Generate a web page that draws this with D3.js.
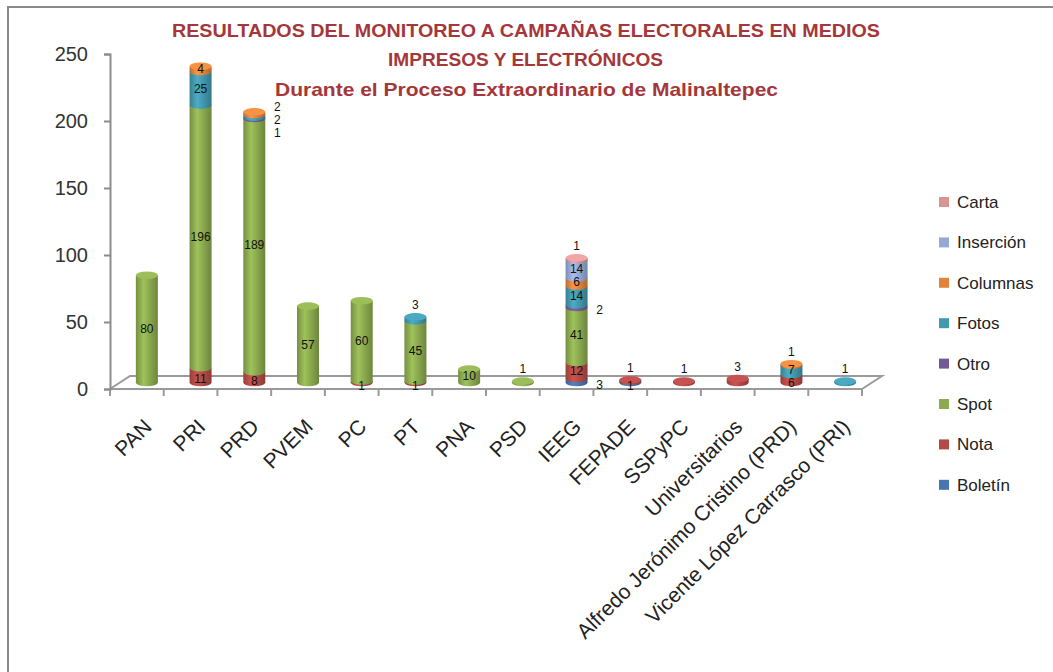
<!DOCTYPE html>
<html>
<head>
<meta charset="utf-8">
<script src="https://cdn.jsdelivr.net/npm/d3@7"></script>
<style>
  body { margin: 0; background: #fff; }
  svg { display: block; font-family: "Liberation Sans", Arial, sans-serif; }
</style>
</head>
<body>
<svg id="chart" width="1053" height="672"></svg>
<script>
// Datos
const categories = ["PAN", "PRI", "PRD", "PVEM", "PC", "PT", "PNA", "PSD", "IEEG", "FEPADE",
  "SSPyPC", "Universitarios", "Alfredo Jerónimo Cristino (PRD)", "Vicente López Carrasco (PRI)"];
const seriesNames = ["Boletín", "Nota", "Spot", "Otro", "Fotos", "Columnas", "Inserción", "Carta"];
const seriesColors = ["#4676b0", "#b44a47", "#8cab4f", "#745a94", "#4299ae", "#e0843c", "#95a9d5", "#d99594"];
const boletin   = [0, 0, 0, 0, 0, 0, 0, 0, 3, 1, 0, 0, 0, 0];
const nota      = [0, 11, 8, 0, 1, 1, 0, 0, 12, 1, 1, 3, 6, 0];
const spot      = [80, 196, 189, 57, 60, 45, 10, 1, 41, 0, 0, 0, 0, 0];
const otro      = [0, 0, 1, 0, 0, 0, 0, 0, 2, 0, 0, 0, 0, 0];
const fotos     = [0, 25, 2, 0, 0, 3, 0, 0, 14, 0, 0, 0, 7, 1];
const columnas  = [0, 4, 2, 0, 0, 0, 0, 0, 6, 0, 0, 0, 1, 0];
const insercion = [0, 0, 0, 0, 0, 0, 0, 0, 14, 0, 0, 0, 0, 0];
const carta     = [0, 0, 0, 0, 0, 0, 0, 0, 1, 0, 0, 0, 0, 0];
const yTicks = [0, 50, 100, 150, 200, 250];
const titleLines = ["RESULTADOS DEL MONITOREO A CAMPAÑAS ELECTORALES EN MEDIOS",
  "IMPRESOS Y ELECTRÓNICOS", "Durante el Proceso Extraordinario de Malinaltepec"];

const seriesValues = [boletin, nota, spot, otro, fotos, columnas, insercion, carta];
const table = categories.map((c, i) => {
  const row = { cat: c };
  seriesNames.forEach((s, k) => { row[s] = seriesValues[k][i]; });
  return row;
});
const stacked = d3.stack().keys(seriesNames)(table);

const svg = d3.select("#chart");
const color = d3.scaleOrdinal().domain(seriesNames).range(seriesColors);

// marco
svg.append("line").attr("x1", 8).attr("y1", 7).attr("x2", 1053).attr("y2", 7)
  .attr("stroke", "#8a8a8a").attr("stroke-width", 2);
svg.append("line").attr("x1", 8).attr("y1", 6).attr("x2", 8).attr("y2", 672)
  .attr("stroke", "#8a8a8a").attr("stroke-width", 2);

// título
const titleY = [37, 66, 96];
const titleW = [708, 275, 503];
svg.selectAll("text.title").data(titleLines).join("text")
  .attr("class", "title")
  .attr("x", (d, i) => [172, 388, 275][i])
  .attr("y", (d, i) => titleY[i])
  .attr("textLength", (d, i) => titleW[i])
  .attr("lengthAdjust", "spacingAndGlyphs")
  .attr("font-size", 19).attr("font-weight", "bold")
  .attr("fill", "#a5373a")
  .text(d => d);

// escalas
const x = d3.scaleBand().domain(categories).range([110, 862]).padding(0);
const y = d3.scaleLinear().domain([0, 250]).range([389, 54]);
const depthX = 20, depthY = -13;
const rx = 11, ry = 3.8;

// piso 3D
const floor = svg.append("g").attr("stroke", "#9a9a9a").attr("stroke-width", 2).attr("fill", "none");
floor.append("path").attr("d",
  `M${x.range()[0]},${y(0)} L${x.range()[0] + depthX},${y(0) + depthY} L${x.range()[1] + depthX},${y(0) + depthY} L${x.range()[1]},${y(0)}`);
floor.append("line").attr("x1", x.range()[0]).attr("x2", x.range()[1]).attr("y1", y(0)).attr("y2", y(0));
const bounds = categories.map(c => x(c)).concat([x.range()[1]]);
floor.selectAll("line.tk").data(bounds).join("line").attr("class", "tk")
  .attr("x1", d => d).attr("x2", d => d).attr("y1", y(0)).attr("y2", y(0) + 7);

// eje Y
const yAxis = svg.append("g").attr("transform", `translate(${x.range()[0]},0)`)
  .call(d3.axisLeft(y).tickValues(yTicks).tickSize(6).tickPadding(16));
yAxis.select(".domain").attr("stroke", "#8c8c8c").attr("stroke-width", 2);
yAxis.selectAll(".tick line").attr("stroke", "#8c8c8c").attr("stroke-width", 2);
yAxis.selectAll(".tick text").attr("font-size", 20).attr("fill", "#333")
  .attr("font-family", "Liberation Sans, Arial, sans-serif");

// gradientes
const defs = svg.append("defs");
seriesNames.forEach((s, k) => {
  const c = d3.color(seriesColors[k]);
  const g = defs.append("linearGradient").attr("id", "g" + k)
    .attr("x1", 0).attr("x2", 1).attr("y1", 0).attr("y2", 0);
  g.append("stop").attr("offset", "0%").attr("stop-color", c.darker(0.5));
  g.append("stop").attr("offset", "35%").attr("stop-color", c.brighter(0.35));
  g.append("stop").attr("offset", "100%").attr("stop-color", c.darker(0.7));
});

const cx = c => x(c) + x.bandwidth() / 2 + depthX / 2;
const cy = v => y(v) + depthY / 2;

// cilindros
const bars = svg.append("g");
const labels = [];
categories.forEach((c, i) => {
  const segs = [];
  stacked.forEach((layer, k) => {
    const d = layer[i];
    if (d[1] - d[0] > 0) segs.push({ k, v: d[1] - d[0], y0: d[0], y1: d[1] });
  });
  const xc = cx(c);
  segs.forEach((s, j) => {
    const top = cy(s.y1), bot = cy(s.y0);
    bars.append("path")
      .attr("d", `M${xc - rx},${top} L${xc - rx},${bot} A${rx},${ry} 0 0 0 ${xc + rx},${bot} L${xc + rx},${top} Z`)
      .attr("fill", `url(#g${s.k})`);
    if (j === segs.length - 1) {
      bars.append("ellipse").attr("cx", xc).attr("cy", top).attr("rx", rx).attr("ry", ry)
        .attr("fill", d3.color(seriesColors[s.k]).brighter(0.3));
    }
  });
  // posición de etiquetas
  const thin = s => cy(s.y0) - cy(s.y1) < 4.5;
  let group = [];
  const flush = () => {
    if (!group.length) return;
    const mid = d3.mean(group, s => (cy(s.y0) + cy(s.y1)) / 2) + 4;
    group.forEach((s, j) => labels.push({ x: xc + 23, y: mid + ((group.length - 1) / 2 - j) * 13, v: s.v }));
    group = [];
  };
  segs.forEach((s, j) => {
    const isTop = j === segs.length - 1;
    const mid = (cy(s.y0) + cy(s.y1)) / 2 + (j === 0 && segs.length > 1 ? 4 : 0);
    if (!thin(s)) { flush(); labels.push({ x: xc, y: mid, v: s.v }); return; }
    const prevThin = j > 0 && thin(segs[j - 1]);
    if (segs.length >= 5 && (!isTop || prevThin)) { group.push(s); return; }
    flush();
    if (isTop) labels.push({ x: xc, y: cy(s.y1) - 12, v: s.v });
    else labels.push({ x: xc, y: mid, v: s.v });
  });
  flush();
});

svg.append("g").selectAll("text").data(labels).join("text")
  .attr("x", d => d.x).attr("y", d => d.y).attr("dy", "0.35em")
  .attr("text-anchor", "middle").attr("font-size", 12).attr("fill", "#111")
  .text(d => d.v);

// etiquetas eje X
svg.append("g").selectAll("text").data(categories).join("text")
  .attr("transform", d => `translate(${x(d) + x.bandwidth() / 2 + 16},428) rotate(-45)`)
  .attr("text-anchor", "end").attr("font-size", 21).attr("fill", "#222")
  .text(d => d);

// leyenda
const legendNames = seriesNames.slice().reverse();
const leg = svg.append("g").selectAll("g").data(legendNames).join("g")
  .attr("transform", (d, i) => `translate(939,${202 + i * 40.4})`);
leg.append("rect").attr("x", 0).attr("y", -5).attr("width", 10).attr("height", 10)
  .attr("fill", d => color(d));
leg.append("text").attr("x", 18).attr("dy", "0.35em").attr("font-size", 17).attr("fill", "#222")
  .text(d => d);
</script>
</body>
</html>
